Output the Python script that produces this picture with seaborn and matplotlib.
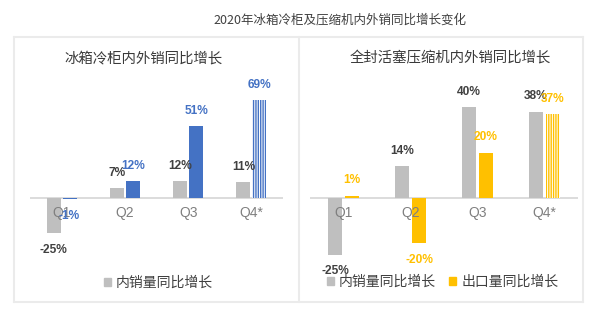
import matplotlib
matplotlib.use("Agg")
import matplotlib.pyplot as plt
import seaborn as sns
import pandas as pd
from matplotlib.patches import Patch
from matplotlib.lines import Line2D

sns.set_theme(style="white")
plt.rcParams['font.family'] = ['Noto Sans CJK SC', 'DejaVu Sans']

# ---------------- data ----------------
quarters = ["Q1", "Q2", "Q3", "Q4*"]
fridge_domestic = [-25, 7, 12, 11]
fridge_export = [-1, 12, 51, 69]
comp_domestic = [-25, 14, 40, 38]
comp_export = [1, -20, 20, 37]

main_title = "2020年冰箱冷柜及压缩机内外销同比增长变化"
left_title = "冰箱冷柜内外销同比增长"
right_title = "全封活塞压缩机内外销同比增长"
label_domestic = "内销量同比增长"
label_export = "出口量同比增长"

GRAY = "#BFBFBF"
BLUE = "#4472C4"
ORANGE = "#FFC000"
TXT = "#404040"
TICK = "#7F7F7F"
BORDER = "#EBEBEB"

W, H = 596, 328
fig = plt.figure(figsize=(W / 100, H / 100), dpi=100)


def px_axes(x0, x1, base, scale, lo, hi):
    top = base - hi * scale
    bot = base - lo * scale
    ax = fig.add_axes([x0 / W, 1 - bot / H, (x1 - x0) / W, (bot - top) / H])
    ax.set_ylim(lo, hi)
    return ax


def panel(ax, dom, exp, ecolor, width, gap):
    df = pd.DataFrame({
        "q": quarters * 2,
        "v": dom + exp,
        "s": ["d"] * 4 + ["e"] * 4,
    })
    ylim = ax.get_ylim()
    sns.barplot(data=df, x="q", y="v", hue="s", hue_order=["d", "e"],
                palette=[GRAY, ecolor], width=width, gap=gap, ax=ax,
                legend=False, saturation=1, linewidth=0, errorbar=None)
    ax.set_xlim(-0.5, 3.5)
    ax.set_ylim(*ylim)
    for s in ax.spines.values():
        s.set_visible(False)
    ax.set_xticks([]); ax.set_yticks([])
    ax.set_xlabel(""); ax.set_ylabel("")
    ax.patch.set_alpha(0)
    ax.axhline(0, color="#D9D9D9", lw=1.3, zorder=0)
    # hatched Q4 export bar
    hb = ax.containers[1][3]
    hb.set_facecolor("white")
    hb.set_edgecolor(ecolor)
    hb.set_hatch("|||||||")
    hb.set_linewidth(0)
    for p in ax.patches:
        p.set_clip_on(False)
    # tick labels at zero line
    for i, q in enumerate(quarters):
        ax.annotate(q, (i, 0), xytext=(0, -11), textcoords="offset points",
                    ha="center", va="center", fontsize=10, color=TICK,
                    family=["Liberation Sans", "DejaVu Sans"])
    # value labels
    for cont, vals, col in ((ax.containers[0], dom, TXT), (ax.containers[1], exp, ecolor)):
        for bar, v in zip(cont, vals):
            cx = bar.get_x() + bar.get_width() / 2
            off = 11 if v >= 0 else -12
            ax.annotate(f"{v}%", (cx, v), xytext=(0, off), textcoords="offset points",
                        ha="center", va="center", fontsize=8.6, color=col,
                        fontweight="bold", family=["Liberation Sans", "DejaVu Sans"])


axL = px_axes(30, 283, 197.7, 1.41, -40, 90)
panel(axL, fridge_domestic, fridge_export, BLUE, 0.505, 0.12)
axR = px_axes(310, 578, 198, 2.27, -30, 50)
panel(axR, comp_domestic, comp_export, ORANGE, 0.51, 0.13)

# titles
fig.text(340 / W, 1 - 20 / H, main_title, ha="center", va="center",
         fontsize=9.0, color=TXT)
fig.text(143 / W, 1 - 58 / H, left_title, ha="center", va="center",
         fontsize=10.4, color="#3A3A3A", fontweight="medium")
fig.text(450 / W, 1 - 58 / H, right_title, ha="center", va="center",
         fontsize=10.4, color="#3A3A3A", fontweight="medium")

# legends
legkw = dict(loc="center", frameon=False, fontsize=10, handlelength=0.5,
             handleheight=0.5, handletextpad=0.35, columnspacing=1.0,
             labelcolor=TXT, bbox_transform=fig.transFigure, borderaxespad=0)
axL.legend(handles=[Patch(color=GRAY)], labels=[label_domestic],
           bbox_to_anchor=(158.5 / W, 1 - 283 / H), **legkw)
axR.legend(handles=[Patch(color=GRAY), Patch(color=ORANGE)],
           labels=[label_domestic, label_export], ncol=2,
           bbox_to_anchor=(442.5 / W, 1 - 282 / H), **legkw)

# panel borders
lw = 1.5
for x in (14, 299, 583):
    fig.add_artist(Line2D([x / W, x / W], [1 - 37 / H, 1 - 302 / H],
                          color=BORDER, lw=lw))
for y in (37, 302):
    fig.add_artist(Line2D([14 / W, 583 / W], [1 - y / H, 1 - y / H],
                          color=BORDER, lw=lw))

fig.savefig("out.png", dpi=100)
